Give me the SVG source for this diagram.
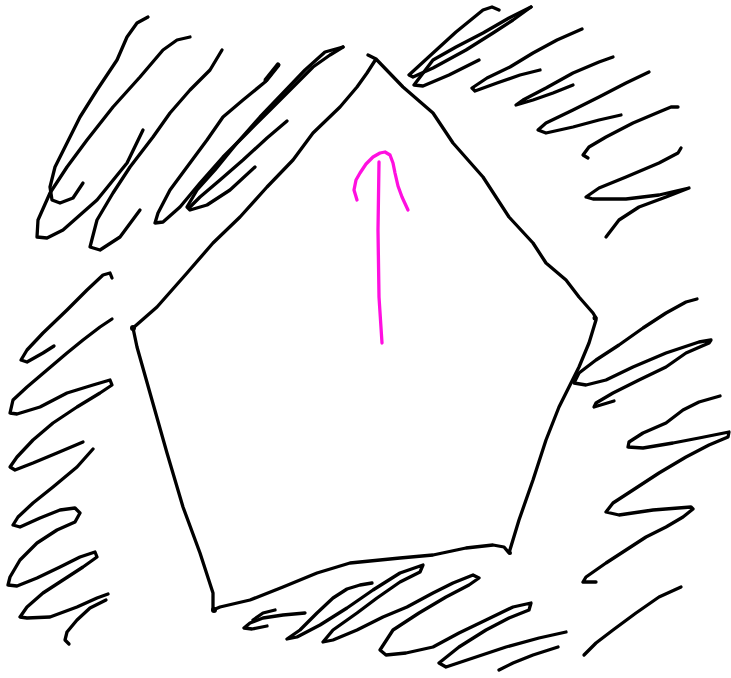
<svg xmlns="http://www.w3.org/2000/svg" width="731" height="678" viewBox="0 0 731 678">
<style>
.s{fill:none;stroke:#000;stroke-width:3.3;stroke-linecap:round;stroke-linejoin:round}
.m{fill:none;stroke:#ff10e0;stroke-width:3.3;stroke-linecap:round;stroke-linejoin:round}
.d{fill:#000}
</style>
<rect width="731" height="678" fill="#fff"/>
<g id="pentagon">
<polyline class="s" points="368,55 376,59 403,87 433,113 453,143 483,177 509,217 533,243 546,263 566,280 579,297 593,313 596,318 596,320 589,343 579,367 559,407 546,440 533,480 519,520 509,553 504,547 493,545 466,548 433,555 400,558 350,563 317,573 283,587 250,600 220,607 213,610 213,593 200,553 183,507 167,453 150,393 137,347 133,328 157,307 187,273 213,243 240,217 267,187 293,160 313,133 340,107 357,87 367,73 376,59"/>
<circle class="d" cx="133" cy="328" r="3"/>
<circle class="s" cx="214" cy="610" r="2" style="stroke-width:2"/>
<circle class="d" cx="595" cy="318" r="2.5"/>
<circle class="d" cx="510" cy="553" r="2"/>
</g>
<g id="arrow">
<polyline class="m" points="379,162 378,230 379,297 382,343"/>
<polyline class="m" points="357,200 354,190 356,180 360,173 366,164 373,157 380,153 385,152 390,155 393,163 395,173 398,186 402,197 408,210"/>
</g>
<g id="hatch-top-left">
<polyline class="s" points="148,17 137,23 127,37 117,60 97,90 80,117 67,143 55,167 50,187 52,200 60,203 73,198 83,183"/>
<polyline class="s" points="190,37 177,40 163,50 140,77 113,107 87,140 67,167 50,193 38,220 37,237 47,238 63,230 97,200 127,163 143,130"/>
<polyline class="s" points="222,50 210,70 190,90 170,113 153,137 130,167 113,193 97,220 90,247 100,250 120,237 140,210"/>
<polyline class="s" points="278,65 265,82 243,100 223,117 207,140 187,167 170,190 158,213 155,223 163,222 180,207 200,183 223,157 247,133 270,110 293,87 313,67 330,55 343,47"/>
<polyline class="s" points="343,47 325,52 305,70 283,93 260,117 237,143 215,170 197,190 187,207 190,210 207,205 230,190 255,167"/>
<polyline class="s" points="287,121 267,138 243,160 220,180 200,197 190,207"/>
<polyline class="s" style="stroke-width:5" points="278,65 266,80"/>
</g>
<g id="hatch-top-right">
<polyline class="s" points="499,10 492,7 483,10 456,32 433,53 409,75 413,77 433,68 466,50 493,33 513,20 531,7"/>
<polyline class="s" points="531,7 509,18 483,33 456,47 433,60 414,85 423,86 449,75 479,60"/>
<polyline class="s" points="582,29 557,40 533,53 510,67 487,78 472,88 475,91 497,83 520,75 540,70"/>
<polyline class="s" points="613,57 599,62 573,73 546,88 523,100 516,105 533,100 553,93 573,85"/>
<polyline class="s" points="649,72 626,83 599,97 573,110 546,123 538,130 546,133 573,127 599,120 621,115"/>
<polyline class="s" points="678,107 671,107 659,112 633,123 606,137 589,147 583,155 588,158"/>
<polyline class="s" points="681,148 678,153 659,163 626,177 599,188 586,197 593,199 626,199 659,195 689,188 666,197 639,207 619,220 606,237"/>
</g>
<g id="hatch-right">
<polyline class="s" points="697,299 686,302 666,313 643,328 619,345 596,360 579,373 574,383 586,385 606,380 633,367 666,353 699,342 711,340 709,343 686,353 666,367 639,380 613,393 596,403 594,407 614,401"/>
<polyline class="s" points="720,396 699,402 683,410 666,423 643,433 629,442 628,447 643,448 673,443 699,438 729,432 728,437 709,445 686,457 659,473 633,490 613,503 606,512 619,515 653,510 691,507 693,509 683,517 666,527 646,537 626,550 606,563 586,577 583,582 596,582"/>
<polyline class="s" points="681,587 659,597 636,613 613,630 596,643 584,655"/>
</g>
<g id="hatch-bottom">
<polyline class="s" points="305,613 283,615 263,618 250,623 244,628 252,629 267,626"/>
<polyline class="s" points="275,610 263,613 253,620"/>
<polyline class="s" points="372,583 360,585 347,589 333,598 317,613 300,630 287,639 297,637 320,625 347,608 373,590 400,573 423,565 420,572 400,582 377,598 357,613 333,630 323,642 333,640 357,630 383,617 407,607 433,593 453,583 473,575 479,578 469,585 446,597 419,613 393,630 380,650 386,655 406,653 433,647 459,633 486,620 513,607 531,603 529,610 509,618 486,630 459,647 439,663 446,667 473,658 506,647 539,638 566,632"/>
<polyline class="s" points="558,647 533,655 513,663 499,670"/>
</g>
<g id="hatch-left">
<polyline class="s" points="112,278 110,273 103,275 87,290 67,310 43,333 27,350 21,360 27,362 43,353 54,346"/>
<polyline class="s" points="112,319 100,327 83,340 67,353 47,370 27,387 13,400 10,413 17,414 40,407 67,393 93,385 110,380 112,385 100,393 77,407 53,423 33,440 17,457 10,467 15,470 33,463 57,453 83,442"/>
<polyline class="s" points="93,449 77,467 53,487 33,503 18,517 13,525 20,527 40,518 60,510 75,508 80,513 75,522 57,530 37,543 20,560 10,577 8,585 17,586 37,578 60,567 80,557 95,552 97,557 83,567 63,580 43,593 27,607 20,617 27,618 50,617 77,607 97,598 108,594"/>
<polyline class="s" points="106,600 90,608 77,620 67,632 65,640 69,644"/>
</g>
</svg>
